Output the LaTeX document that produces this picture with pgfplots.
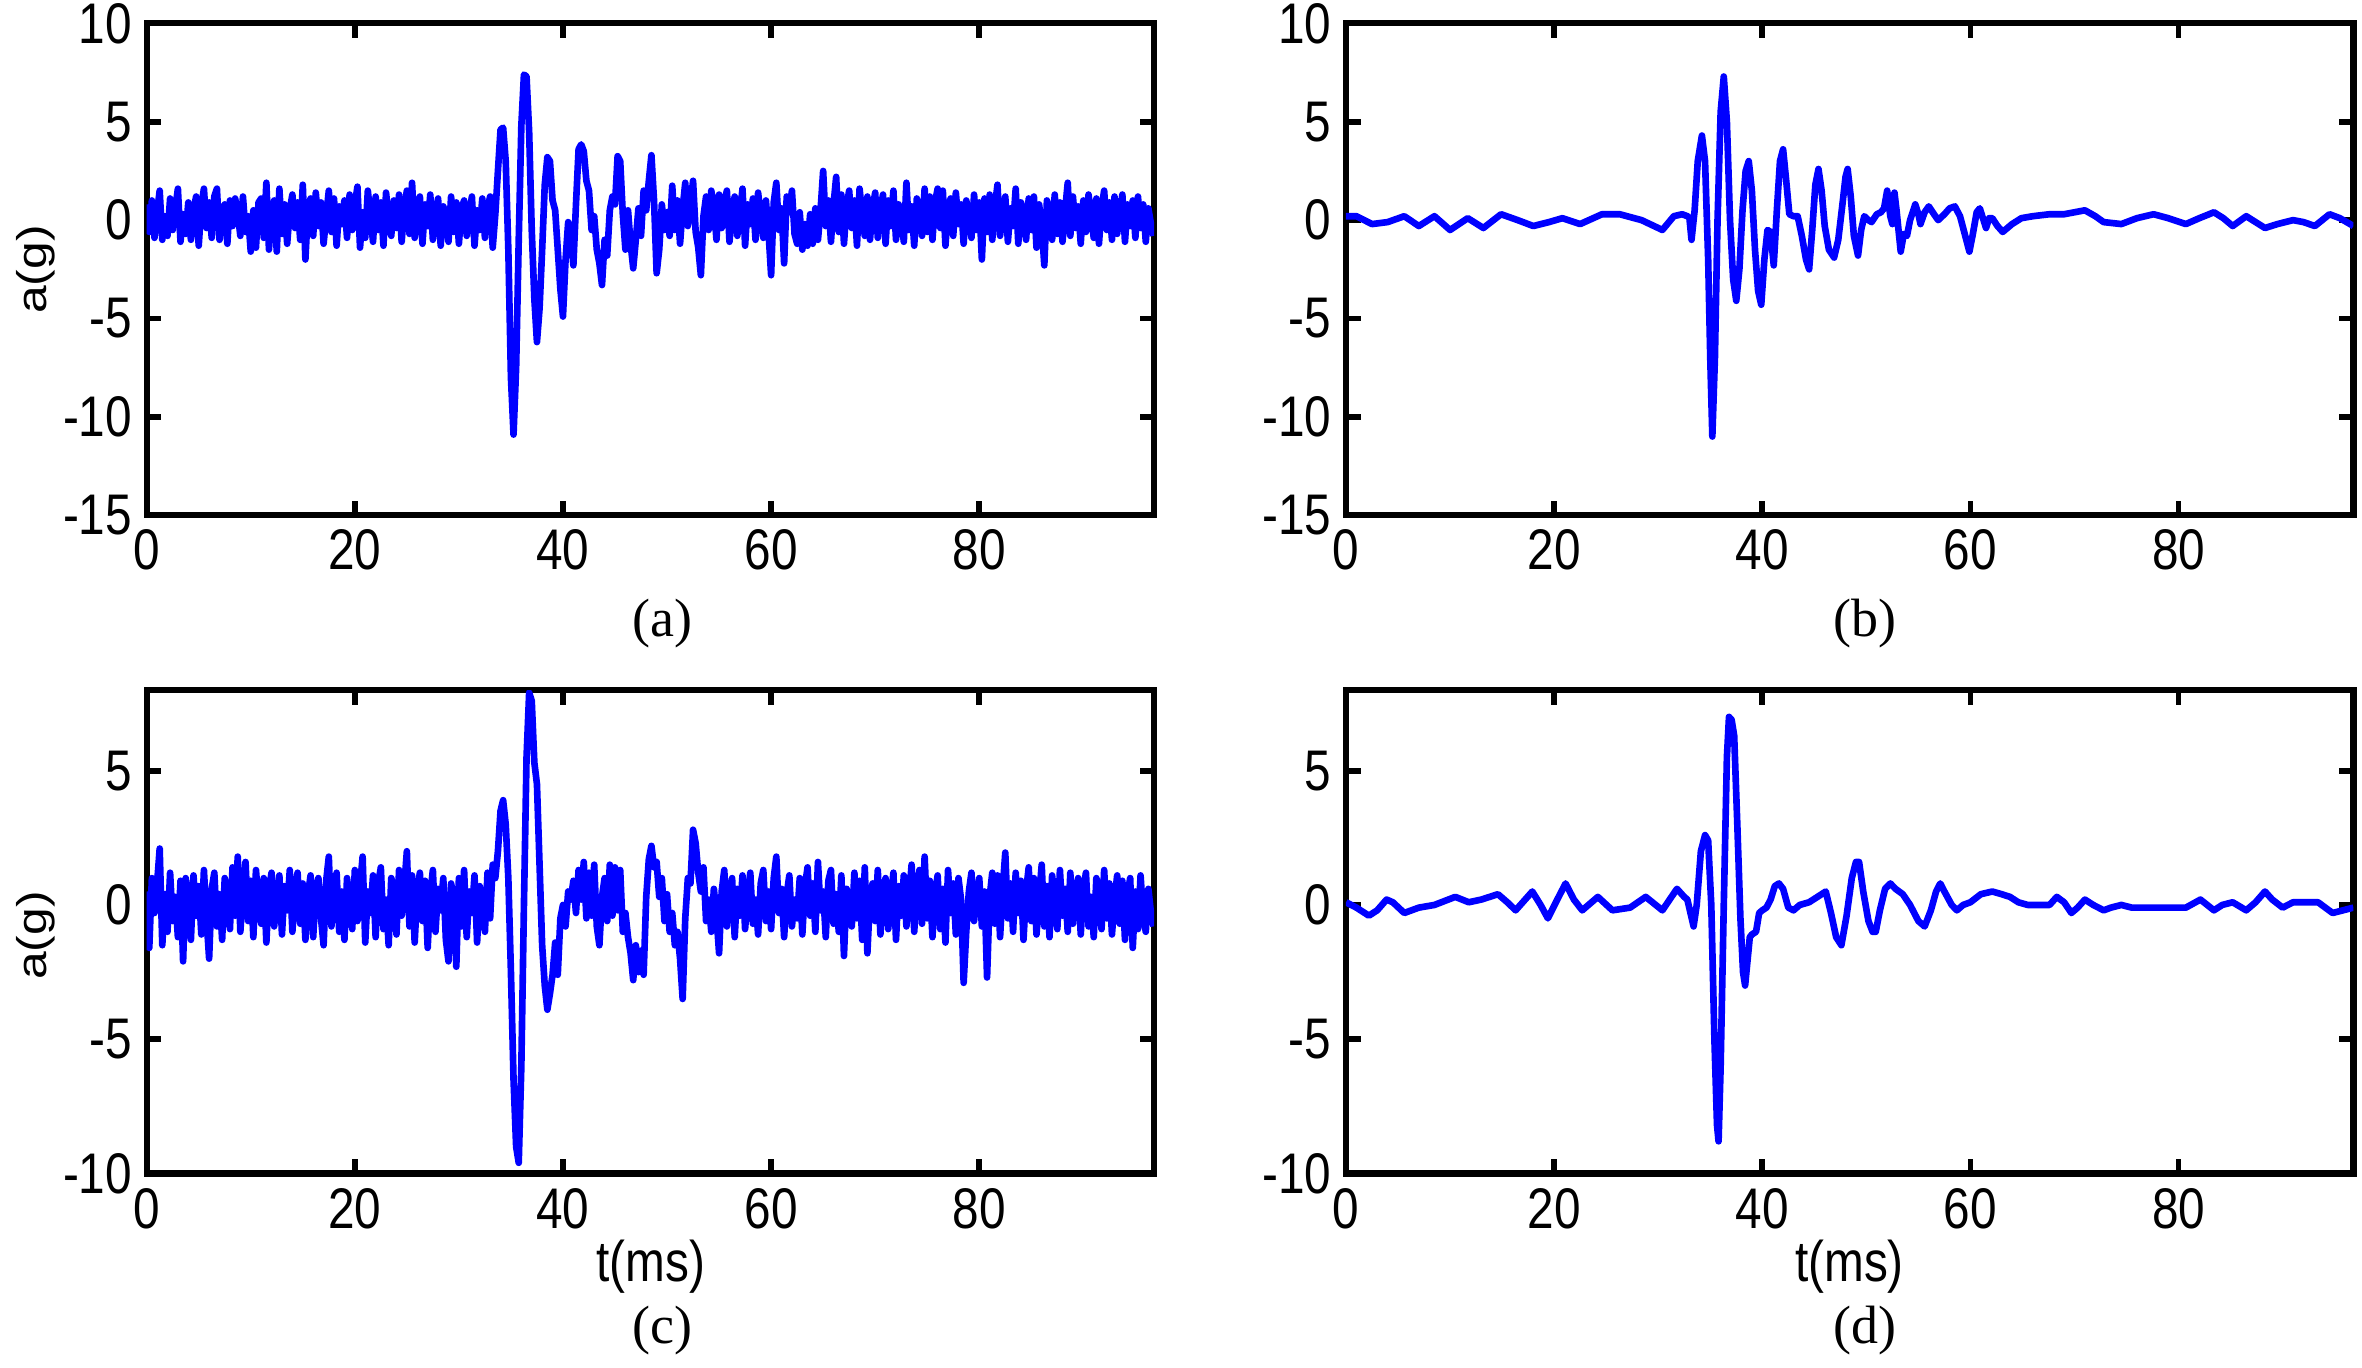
\documentclass[border=0pt]{standalone}
\usepackage{fontspec}
\setmainfont{Liberation Sans}
\newfontfamily\timesfont{Liberation Serif}
\usepackage{graphicx}
\usepackage{pgfplots}
\usepackage{pgfplotstable}
\pgfplotsset{compat=1.18}

% panel (a): noisy signal, sampled every 0.25 ms
\pgfplotstableread[row sep=\\, header=false]{
0.8\\ -0.6\\ 1.0\\ -0.9\\ 0.4\\ 1.5\\ -1.0\\ 0.2\\ -0.8\\ 1.1\\ -0.5\\ 0.6\\ 1.6\\ -1.1\\ 0.3\\ -0.7\\ 0.9\\ -1.0\\ 0.5\\ 1.2\\
-1.3\\ 0.7\\ 1.6\\ -0.4\\ 0.9\\ -0.9\\ 1.2\\ 1.6\\ -1.0\\ 0.3\\ 0.8\\ -1.2\\ 1.0\\ -0.3\\ 1.1\\ 0.4\\ -0.8\\ 1.2\\ -0.6\\ 0.2\\
-1.6\\ 0.5\\ -1.4\\ 0.9\\ 1.1\\ -0.9\\ 1.9\\ -1.5\\ 0.4\\ 1.0\\ -1.6\\ 1.6\\ -0.7\\ 0.8\\ -1.2\\ 0.5\\ 1.3\\ -0.4\\ 0.9\\ -1.0\\
1.8\\ -2.0\\ 0.6\\ 1.1\\ -0.8\\ 1.4\\ -0.3\\ 0.9\\ -1.2\\ 0.2\\ 1.5\\ -0.6\\ 1.1\\ -1.3\\ 0.7\\ -0.2\\ 1.0\\ -0.9\\ 1.3\\ -0.5\\
0.8\\ 1.7\\ -1.4\\ 0.4\\ -0.9\\ 1.5\\ 0.2\\ -1.1\\ 1.2\\ -0.5\\ 0.9\\ -1.3\\ 1.4\\ 0.1\\ -0.8\\ 1.0\\ -0.4\\ 1.3\\ -1.1\\ 0.6\\
1.5\\ -0.7\\ 1.9\\ -0.9\\ 0.5\\ 1.2\\ -1.2\\ 0.8\\ -0.3\\ 1.3\\ -1.0\\ 0.4\\ 1.1\\ -1.3\\ 0.7\\ 0.2\\ -1.1\\ 1.2\\ -0.6\\ 0.9\\
-1.2\\ 0.6\\ 1.0\\ -0.8\\ 0.3\\ 1.2\\ -1.3\\ 0.5\\ -0.5\\ 1.1\\ -0.9\\ 0.6\\ 1.2\\ -1.4\\
0.3\\ 2.5\\ 4.6\\ 4.7\\ 3.0\\ -1.5\\ -8.0\\ -10.9\\ -7.5\\ -1.0\\ 4.8\\ 7.4\\ 7.3\\ 4.5\\ -0.5\\ -4.0\\ -6.2\\ -4.5\\ -1.5\\ 1.8\\
3.2\\ 3.0\\ 1.0\\ 0.5\\ -1.5\\ -3.5\\ -4.9\\ -2.0\\ -0.1\\ -0.8\\ -2.3\\ 0.8\\ 3.6\\ 3.85\\ 3.5\\ 2.0\\ 1.5\\ -0.5\\ 0.2\\ -1.5\\
-2.2\\ -3.3\\ -1.0\\ -1.8\\ 0.5\\ 1.2\\ 0.8\\ 3.25\\ 3.0\\ 0.3\\ -1.5\\ 0.5\\ -1.2\\ -2.45\\ -1.0\\ 0.6\\ -0.8\\ 1.5\\ 0.5\\ 2.0\\
3.3\\ 1.0\\ -2.7\\ -1.5\\ 0.8\\ -0.5\\
0.4\\ -0.8\\ 1.75\\ -0.5\\ 1.0\\ -1.2\\ 0.6\\ 1.9\\ -0.3\\ 0.8\\ 2.0\\ -0.6\\ -1.4\\ -2.8\\ 0.2\\ 1.2\\ -0.5\\ 1.5\\ 0.7\\ -1.0\\
1.3\\ -0.4\\ 0.9\\ 1.5\\ -1.1\\ 0.5\\ 1.2\\ -0.8\\ 0.3\\ 1.6\\ -1.3\\ 0.8\\ -0.2\\ 1.1\\ -1.0\\ 1.4\\ 0.2\\ -0.9\\ 1.0\\ -0.6\\
-2.8\\ 0.9\\ 1.9\\ -0.5\\ 0.6\\ -2.2\\ 1.2\\ 0.4\\ 1.5\\ -0.7\\ -1.2\\ 0.4\\ -1.5\\ -0.2\\ -1.3\\ 0.3\\ -1.2\\ 0.6\\ -1.0\\ 0.5\\
2.5\\ -0.3\\ 1.0\\ -1.1\\ 0.8\\ 2.2\\ -0.6\\ 1.3\\ -1.2\\ 0.7\\ 1.5\\ -0.4\\ 1.0\\ -1.3\\ 1.6\\ 0.3\\ -0.8\\ 1.2\\ -1.0\\ 0.6\\
1.4\\ -0.9\\ 0.5\\ 1.3\\ -1.2\\ 1.0\\ -0.3\\ 1.5\\ -1.0\\ 0.8\\ 0.2\\ -1.1\\ 1.9\\ -0.5\\ 0.7\\ -1.3\\ 1.1\\ 0.4\\ -0.8\\ 1.6\\
-0.6\\ 1.2\\ -1.0\\ 0.9\\ 1.6\\ -0.4\\ 1.5\\ -1.3\\ 0.6\\ 1.1\\ -0.8\\ 1.4\\ -0.2\\ 0.8\\ -1.2\\ 1.0\\ 0.3\\ -0.9\\ 1.3\\ -0.5\\
0.9\\ -2.0\\ 1.1\\ -0.6\\ 1.3\\ -1.0\\ 0.7\\ 1.8\\ -0.8\\ 0.4\\ 1.2\\ -1.1\\ 0.6\\ -0.3\\ 1.6\\ -1.2\\ 0.9\\ 0.5\\ -1.0\\ 1.1\\
-0.5\\ 1.2\\ -1.4\\ 0.8\\ -0.3\\ -2.3\\ 1.0\\ 0.6\\ -1.0\\ 1.3\\ -0.7\\ 0.9\\ -1.1\\ 0.5\\ 1.9\\ -0.8\\ 1.2\\ -0.4\\ 0.7\\ -1.2\\
1.0\\ -0.6\\ 1.3\\ 0.2\\ -0.9\\ 1.1\\ -1.2\\ 0.6\\ 1.5\\ -0.5\\ 0.9\\ -1.0\\ 1.2\\ -0.7\\ 0.4\\ 1.3\\ -1.1\\ 0.8\\ -0.3\\ 1.0\\
-0.9\\ 1.2\\ -0.4\\ 0.8\\ -1.1\\ 0.6\\ -0.2\\ -0.8\\
}\dataA

% panel (c): noisy signal, sampled every 0.25 ms
\pgfplotstableread[row sep=\\, header=false]{
0.5\\ -1.6\\ 1.0\\ -0.3\\ 0.8\\ 2.1\\ -1.5\\ 0.4\\ -1.0\\ 1.2\\ -0.6\\ 0.3\\ -1.2\\ 0.9\\ -2.1\\ 1.0\\ 0.2\\ -1.3\\ 1.1\\ -0.4\\
0.7\\ -1.1\\ 1.3\\ -0.5\\ -2.0\\ 0.6\\ 1.2\\ -0.8\\ 0.4\\ -1.3\\ 1.0\\ 0.3\\ -0.9\\ 1.4\\ -0.4\\ 1.8\\ -1.0\\ 0.5\\ 1.6\\ -0.6\\
0.9\\ -1.2\\ 1.3\\ 0.1\\ -0.7\\ 1.0\\ -1.4\\ 0.6\\ 1.2\\ -0.8\\ 0.3\\ 1.1\\ -1.1\\ 0.7\\ -0.2\\ 1.3\\ -1.0\\ 0.5\\ 1.2\\ -0.7\\
0.8\\ -1.3\\ 0.4\\ 1.1\\ -1.2\\ 0.6\\ 1.0\\ -0.5\\ -1.5\\ 0.9\\ 1.8\\ -0.8\\ 0.3\\ 1.2\\ -1.0\\ 0.5\\ -1.3\\ 1.0\\ 0.2\\ -0.9\\
1.3\\ -0.6\\ 0.7\\ 1.8\\ -1.4\\ 0.5\\ -0.3\\ 1.1\\ -1.2\\ 0.8\\ 1.4\\ -0.9\\ 0.2\\ -1.5\\ 1.0\\ 0.6\\ -1.1\\ 1.3\\ -0.4\\ 0.7\\
2.0\\ -0.8\\ 1.1\\ -1.4\\ 0.5\\ 1.2\\ -0.6\\ 0.9\\ -1.6\\ 0.4\\ 1.3\\ -1.0\\ 0.6\\ -0.2\\ 1.0\\ -1.3\\ -2.1\\ 0.8\\ 0.3\\ -2.3\\
1.0\\ -0.8\\ 1.3\\ -1.2\\ 0.5\\ -0.3\\ 1.1\\ -1.4\\ 0.7\\ 0.2\\ -1.0\\ 1.2\\ -0.5\\ 1.5\\
1.0\\ 2.0\\ 3.5\\ 3.9\\ 3.0\\ 1.0\\ -2.5\\ -6.5\\ -9.0\\ -9.6\\ -6.0\\ 0.0\\ 5.5\\ 7.9\\ 7.6\\ 5.3\\ 4.5\\ 1.5\\ -1.5\\ -3.0\\
-3.9\\ -3.3\\ -2.6\\ -1.4\\ -2.6\\ -0.5\\ 0.0\\ -0.8\\ 0.5\\ 0.2\\ 0.9\\ -0.3\\ 1.3\\ 0.2\\ 1.6\\ -0.5\\ 1.2\\ -0.4\\ 1.5\\ -0.8\\
-1.5\\ 0.3\\ 1.0\\ -0.6\\ 1.5\\ -0.4\\ 1.4\\ -0.2\\ 1.3\\ -1.0\\ -0.3\\ -1.2\\ -1.8\\ -2.8\\ -1.5\\ -2.5\\ -1.7\\ -2.6\\ 0.3\\ 1.7\\
2.2\\ 1.4\\ 1.6\\ 0.3\\ 1.0\\ -0.6\\
0.4\\ -1.0\\ -0.3\\ -1.5\\ -1.0\\ -2.0\\ -3.5\\ -0.5\\ 1.0\\ 0.8\\ 2.8\\ 2.3\\ 1.2\\ 0.5\\ 1.4\\ -0.6\\ 0.2\\ -1.0\\ 0.6\\ -0.4\\
-1.8\\ 0.5\\ 1.3\\ -0.8\\ 0.3\\ 1.0\\ -1.2\\ 0.6\\ -0.4\\ 1.1\\ -0.9\\ 0.4\\ 1.2\\ -0.7\\ 0.2\\ -1.1\\ 0.8\\ 1.3\\ -0.6\\ 0.5\\
-0.9\\ 1.0\\ 1.8\\ -0.3\\ 0.6\\ -1.2\\ 0.4\\ 1.1\\ -0.8\\ 0.2\\ -0.5\\ 1.0\\ -1.1\\ 0.7\\ 1.4\\ -0.4\\ 0.8\\ -1.0\\ 1.6\\ -0.2\\
0.5\\ -1.2\\ 0.9\\ 1.3\\ -0.7\\ 0.4\\ -1.0\\ 1.1\\ -1.9\\ 0.6\\ 0.2\\ -0.8\\ 1.2\\ -0.5\\ 0.9\\ -1.3\\ 1.4\\ -1.8\\ 0.3\\ 0.8\\
-0.6\\ 1.3\\ -1.1\\ 0.5\\ 1.0\\ -0.9\\ 0.2\\ 1.2\\ -1.3\\ 0.7\\ -0.4\\ 1.1\\ -0.8\\ 0.3\\ 1.5\\ -1.0\\ 0.6\\ 1.3\\ -0.7\\ 1.8\\
-0.5\\ 0.9\\ -1.2\\ 0.4\\ 1.1\\ -0.9\\ 0.6\\ -1.4\\ 1.3\\ -0.3\\ 0.8\\ -1.1\\ 1.0\\ 0.2\\ -2.9\\ -1.0\\ 0.5\\ 1.2\\ -0.6\\ 0.4\\
1.0\\ -0.8\\ 0.5\\ -2.7\\ 0.3\\ 1.2\\ -0.7\\ 1.1\\ -1.2\\ 0.6\\ 1.95\\ -0.5\\ 0.8\\ -1.0\\ 1.2\\ -0.3\\ 0.9\\ -1.3\\ 0.5\\ 1.4\\
-0.6\\ 1.0\\ -1.1\\ 0.3\\ 1.5\\ -0.8\\ 0.7\\ -1.2\\ 1.1\\ 0.2\\ -0.9\\ 1.3\\ -0.4\\ 0.6\\ -1.0\\ 1.2\\ -0.7\\ 0.4\\ 1.0\\ -1.1\\
0.6\\ 1.2\\ -0.8\\ 0.3\\ -1.2\\ 1.0\\ 0.5\\ -0.9\\ 1.3\\ -0.5\\ 0.8\\ -1.1\\ 0.2\\ 1.1\\ -0.7\\ 0.9\\ -1.3\\ 0.4\\ 1.0\\ -1.6\\
0.5\\ -0.9\\ 1.1\\ -0.4\\ -1.0\\ 0.6\\ -0.3\\ -0.8\\
}\dataC

\newcommand{\tallsans}[1]{\scalebox{1}[1.2]{#1}}

\pgfplotsset{
  panel/.style={
    scale only axis,
    width=8.53cm,
    xmin=0, xmax=96.8,
    xtick={0,20,40,60,80},
    tick align=inside,
    major tick length=3.5pt,
    axis line style={line width=1.5pt, black},
    tick style={line width=1.4pt, black},
    tick label style={font=\fontsize{11.5}{13}\selectfont},
    /pgf/number format/assume math mode=true,
    xticklabel={\tallsans{\pgfmathprintnumber{\tick}}},
    yticklabel={\tallsans{\pgfmathprintnumber{\tick}}},
    clip=true,
  },
  toprow/.style={panel, height=4.165cm, ymin=-15, ymax=10, ytick={-15,-10,-5,0,5,10}},
  botrow/.style={panel, height=4.094cm, ymin=-10, ymax=8, ytick={-10,-5,0,5}},
  sig/.style={blue, line width=1.6pt, line join=round, no marks},
}

\begin{document}
\begin{tikzpicture}
\useasboundingbox (0,0) rectangle (20cm,11.582cm);

% (a)
\begin{axis}[toprow, at={(1.242cm,7.219cm)}, anchor=south west]
\addplot[sig] table[x expr=\coordindex*0.25, y index=0] {\dataA};
\end{axis}

% (b)
\begin{axis}[toprow, at={(11.397cm,7.219cm)}, anchor=south west]
\addplot[sig] coordinates {
(0,0.2) (1.0,0.2) (2.5,-0.2) (4.0,-0.1) (5.6,0.2) (7.0,-0.3) (8.5,0.2) (10.0,-0.5)
(11.7,0.1) (13.2,-0.4) (14.9,0.3) (16.5,0.0) (18.0,-0.3) (19.5,-0.1) (20.8,0.1)
(22.5,-0.2) (24.6,0.3) (26.3,0.3) (28.4,0.0) (30.4,-0.5) (31.5,0.2) (32.3,0.3) (32.8,0.2)
(33.0,0.1) (33.2,-1.0) (33.5,0.5) (33.8,3.0) (34.2,4.3) (34.5,3.0) (34.8,-2.0) (35.0,-7.0)
(35.2,-11.0) (35.45,-7.0) (35.7,0.0) (36.0,5.5) (36.3,7.3) (36.6,5.0) (36.9,0.0) (37.2,-3.0)
(37.5,-4.1) (37.8,-2.5) (38.1,0.5) (38.4,2.5) (38.7,3.0) (39.0,1.5) (39.3,-1.5) (39.6,-3.6)
(39.9,-4.3) (40.2,-2.0) (40.5,-0.5) (40.8,-0.6) (41.1,-2.3) (41.4,0.5) (41.7,3.0) (42.0,3.6)
(42.3,2.0) (42.6,0.3) (43.0,0.2) (43.4,0.2) (43.8,-0.8) (44.2,-2.0) (44.5,-2.5) (44.8,-0.5)
(45.1,1.8) (45.4,2.6) (45.7,1.5) (46.0,-0.3) (46.4,-1.5) (46.9,-1.9) (47.3,-1.0) (47.7,0.8)
(48.0,2.2) (48.2,2.6) (48.5,1.2) (48.8,-0.8) (49.2,-1.8) (49.5,-0.5) (49.8,0.2) (50.2,0.0)
(50.5,-0.1) (51.0,0.3) (51.4,0.4) (51.7,0.6) (52.0,1.5) (52.3,0.2) (52.5,-0.2) (52.7,1.4)
(52.9,0.5) (53.3,-1.6) (53.6,-0.7) (53.9,-0.8) (54.2,0.0) (54.7,0.8) (55.0,0.3) (55.2,-0.2)
(55.6,0.4) (56.0,0.7) (56.5,0.3) (56.9,0.0) (57.5,0.3) (58.0,0.6) (58.5,0.7) (59.0,0.2)
(59.5,-0.8) (59.9,-1.6) (60.2,-0.8) (60.6,0.4) (60.9,0.6) (61.2,0.1) (61.5,-0.4) (61.8,0.1)
(62.1,0.1) (62.6,-0.3) (63.1,-0.6) (64.0,-0.2) (64.9,0.1) (66.0,0.2) (67.6,0.3) (69.0,0.3)
(70.0,0.4) (71.0,0.5) (72.0,0.2) (72.8,-0.1) (74.5,-0.2) (76.0,0.1) (77.6,0.3) (79.0,0.1)
(80.7,-0.2) (82.0,0.1) (83.4,0.4) (84.3,0.1) (85.2,-0.3) (86.5,0.2) (87.4,-0.1) (88.3,-0.4)
(89.5,-0.2) (91.0,0.0) (92.0,-0.1) (93.1,-0.3) (94.5,0.3) (95.5,0.1) (96.8,-0.3)
};
\end{axis}

% (c)
\begin{axis}[botrow, at={(1.242cm,1.645cm)}, anchor=south west]
\addplot[sig] table[x expr=\coordindex*0.25, y index=0] {\dataC};
\end{axis}

% (d)
\begin{axis}[botrow, at={(11.397cm,1.645cm)}, anchor=south west]
\addplot[sig] coordinates {
(0,0.1) (1.0,-0.1) (2.2,-0.4) (3.0,-0.2) (3.9,0.2) (4.5,0.1) (5.6,-0.3) (7.0,-0.1)
(8.5,0.0) (10.5,0.3) (11.8,0.1) (13.0,0.2) (14.6,0.4) (15.5,0.1) (16.3,-0.2) (17.9,0.5)
(18.7,0.0) (19.4,-0.5) (20.3,0.2) (21.1,0.8) (21.9,0.2) (22.7,-0.2) (24.2,0.3) (25.6,-0.2)
(27.3,-0.1) (28.8,0.3) (30.4,-0.2) (31.8,0.6) (32.5,0.3) (32.8,0.2) (33.1,-0.3) (33.4,-0.8)
(33.7,0.0) (34.1,2.0) (34.5,2.6) (34.8,2.4) (35.1,0.0) (35.4,-5.0) (35.65,-8.2) (35.8,-8.8)
(36.0,-6.0) (36.3,0.0) (36.6,5.5) (36.8,7.0) (37.05,6.9) (37.3,6.3) (37.6,3.0) (37.9,-0.5)
(38.15,-2.5) (38.35,-3.0) (38.6,-2.0) (38.8,-1.2) (39.0,-1.1) (39.4,-1.0) (39.7,-0.3) (40.0,-0.2)
(40.4,-0.1) (40.8,0.2) (41.2,0.7) (41.6,0.8) (42.0,0.6) (42.5,-0.1) (43.0,-0.2) (43.6,0.0)
(44.5,0.1) (45.3,0.3) (46.1,0.5) (46.6,-0.3) (47.1,-1.2) (47.6,-1.5) (48.1,-0.4) (48.6,1.0)
(49.0,1.6) (49.3,1.6) (49.7,0.5) (50.2,-0.6) (50.6,-1.0) (50.9,-1.0) (51.3,-0.2) (51.8,0.6)
(52.3,0.8) (52.8,0.6) (53.5,0.4) (54.2,0.0) (55.0,-0.6) (55.6,-0.8) (56.2,-0.2) (56.7,0.5)
(57.1,0.8) (57.5,0.5) (58.2,0.0) (58.7,-0.2) (59.3,0.0) (60.0,0.1) (61.0,0.4) (62.1,0.5)
(63.0,0.4) (63.8,0.3) (64.6,0.1) (65.5,0.0) (66.5,0.0) (67.6,0.0) (68.3,0.3) (69.0,0.1)
(69.7,-0.3) (70.3,-0.1) (71.0,0.2) (71.8,0.0) (72.8,-0.2) (73.5,-0.1) (74.5,0.0) (75.5,-0.1)
(76.6,-0.1) (78.0,-0.1) (79.5,-0.1) (80.7,-0.1) (82.1,0.2) (83.4,-0.2) (84.2,0.0) (85.2,0.1)
(86.5,-0.2) (87.4,0.1) (88.3,0.5) (89.0,0.2) (90.0,-0.1) (91.0,0.1) (91.7,0.1) (92.5,0.1)
(93.4,0.1) (94.8,-0.3) (95.8,-0.2) (96.8,-0.1)
};
\end{axis}

% axis titles and panel captions
\node[rotate=90, font=\fontsize{10}{12}\selectfont] at (0.30cm,9.30cm) {\scalebox{1.2}[1]{a(g)}};
\node[rotate=90, font=\fontsize{10}{12}\selectfont] at (0.30cm,3.66cm) {\scalebox{1.2}[1]{a(g)}};
\node[font=\fontsize{11.5}{13}\selectfont] at (5.51cm,0.86cm) {\tallsans{t(ms)}};
\node[font=\fontsize{11.5}{13}\selectfont] at (15.66cm,0.86cm) {\tallsans{t(ms)}};
\node[font=\timesfont\fontsize{13}{15}\selectfont] at (5.61cm,6.30cm) {(a)};
\node[font=\timesfont\fontsize{13}{15}\selectfont] at (15.79cm,6.30cm) {(b)};
\node[font=\timesfont\fontsize{13}{15}\selectfont] at (5.61cm,0.32cm) {(c)};
\node[font=\timesfont\fontsize{13}{15}\selectfont] at (15.79cm,0.32cm) {(d)};
\end{tikzpicture}
\end{document}
